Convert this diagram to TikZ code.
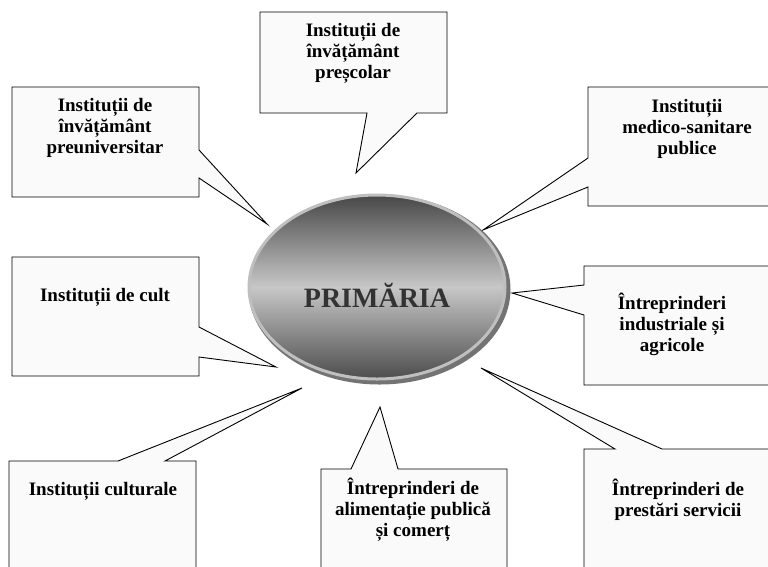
\documentclass[tikz,border=0pt]{standalone}
\usepackage{fontspec}
\setmainfont{Liberation Serif}
\usetikzlibrary{shapes.geometric}
\colorlet{boxfill}{gray!4}

\tikzset{
  callout/.style={draw=black, fill=boxfill, line width=0.9pt, line join=miter},
  boxtext/.style={font=\bfseries\fontsize{19}{21}\selectfont, align=center, inner sep=0pt},
}

\begin{document}
\begin{tikzpicture}[x=1pt, y=-1pt]
	\useasboundingbox (0,0) rectangle (768,566);
	\clip (0,0) rectangle (768,566);

	% pointer tips near the centre
	\coordinate (tipuniv) at (267,224);
	\coordinate (tipprescolar) at (356,173);
	\coordinate (tipmedico) at (483,230);
	\coordinate (tipcult) at (276,367);
	\coordinate (tipindustrie) at (512,293);
	\coordinate (tipcultura) at (302,388);
	\coordinate (tipcomert) at (380,407);
	\coordinate (tipservicii) at (481,368);

	% callouts
	\filldraw[callout] (260,12) -- (447,12) -- (447,113) -- (417,113) -- (tipprescolar) -- (367,113) -- (260,113) -- cycle;
	\filldraw[callout] (12,87) -- (199,87) -- (199,150) -- (tipuniv) -- (199,178) -- (199,197) -- (12,197) -- cycle;
	\filldraw[callout] (588,87) -- (790,87) -- (790,206) -- (588,206) -- (588,187) -- (tipmedico) -- (588,158) -- cycle;
	\filldraw[callout] (12,257) -- (199,257) -- (199,327) -- (tipcult) -- (199,357) -- (199,376) -- (12,376) -- cycle;
	\filldraw[callout] (584,266) -- (790,266) -- (790,385) -- (584,385) -- (584,315) -- (tipindustrie) -- (584,285) -- cycle;
	\filldraw[callout] (9,461) -- (118,461) -- (tipcultura) -- (165,461) -- (196,461) -- (196,590) -- (9,590) -- cycle;
	\filldraw[callout] (321,469) -- (351,469) -- (tipcomert) -- (398,469) -- (507,469) -- (507,590) -- (321,590) -- cycle;
	\filldraw[callout] (584,449) -- (615,449) -- (tipservicii) -- (662,449) -- (790,449) -- (790,590) -- (584,590) -- cycle;

	% centre ellipse
	\fill[black!55] (379.5,289.5) ellipse [x radius=131, y radius=95];
	\node[ellipse, draw=gray!50, line width=3pt, minimum width=256pt, minimum height=184pt,
		top color=black!72, bottom color=black!70, middle color=black!22] (prim) at (377,287) {};
	\node[font=\bfseries\fontsize{28}{30}\selectfont, text=black!80] (primlabel) at (377,295) {PRIMĂRIA};

	% texts
	\node[boxtext] (prescolar) at (353,53) {Instituții de\\învățământ\\preșcolar};
	\node[boxtext] (univ) at (105,128) {Instituții de\\învățământ\\preuniversitar};
	\node[boxtext] (medico) at (687,129) {Instituții\\medico-sanitare\\publice};
	\node[boxtext] (cult) at (105,297) {Instituții de cult};
	\node[boxtext] (industrie) at (672,324) {Întreprinderi\\industriale și\\agricole};
	\node[boxtext] (cultura) at (103,491) {Instituții culturale};
	\node[boxtext] (comert) at (413,510) {Întreprinderi de\\alimentație publică\\și comerț};
	\node[boxtext] (servicii) at (678,500) {Întreprinderi de\\prestări servicii};
\end{tikzpicture}
\end{document}
